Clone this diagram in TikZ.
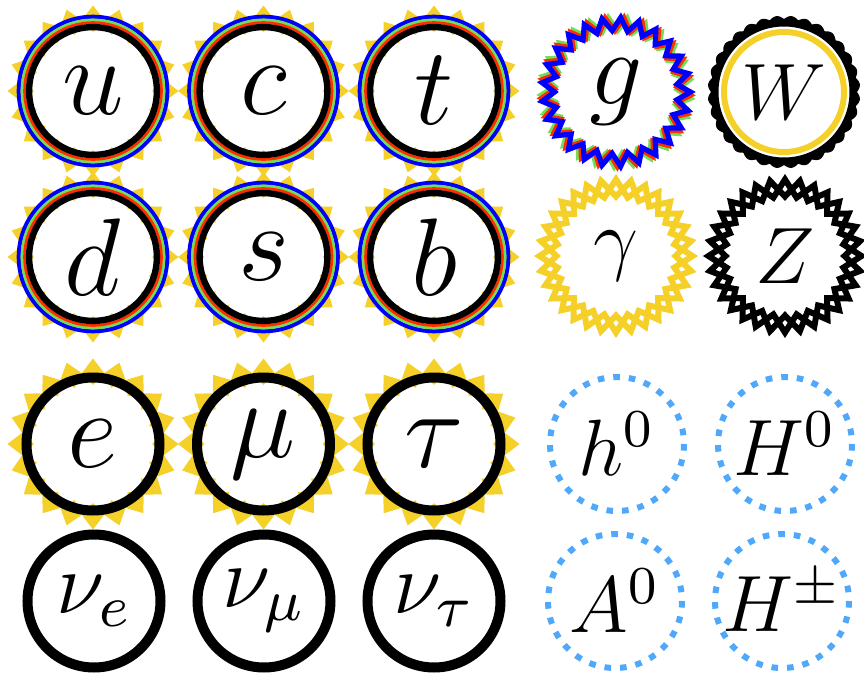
\documentclass[tikz,border=0pt]{standalone}
\usetikzlibrary{calc}
\definecolor{chg}{RGB}{245,208,40}
\definecolor{qred}{RGB}{255,45,0}
\definecolor{qgreen}{RGB}{112,222,90}
\definecolor{qblue}{RGB}{0,0,255}
\definecolor{hblue}{RGB}{80,168,250}
\newcommand\Lbig[1]{\scalebox{4.6}{$#1$}}
\newcommand\Lnu[1]{\scalebox{3.67}{$#1$}}
\newcommand\Lbos[1]{\scalebox{3.33}{$#1$}}
\newcommand\Lglu[1]{\scalebox{4.4}{$#1$}}
\tikzset{
  lbl/.style={inner sep=0pt, font=\fontsize{12}{14}\selectfont},
  zigline/.style={line width=2.6pt, line join=miter, miter limit=10},
  dblzig/.style={line width=3pt, line join=miter, miter limit=10},
}
\newcommand\chargeteeth[1]{%
  \begin{scope}[shift={(#1.center)}]
    \foreach \a in {0,18,...,342}
      \fill[chg] (\a:59) -- ({\a-8.8}:72) -- (\a:85.5) -- ({\a+8.8}:72) -- cycle;
  \end{scope}}
\newcommand\quarkrings[1]{%
  \begin{scope}[shift={(#1.center)}]
    \draw[qblue, line width=2pt] (0,0) circle (74.3);
    \draw[qgreen, line width=1.4pt] (0,0) circle (71);
    \draw[qred, line width=1.4pt] (0,0) circle (68.4);
    \draw[black, line width=3.2pt] (0,0) circle (63.9);
  \end{scope}}
\newcommand\leptonring[1]{%
  \draw[black, line width=5pt] (#1.center) circle (66.5);}
% node, style, radius, amplitude, N, 2N-1, 2N, rotation
\newcommand\zigring[8]{%
  \draw[#2, shift={(#1.center)}] plot[domain=0:#6, samples=#7, variable=\k]
    ({\k*180/#5+#8}:{#3+#4*cos(\k*180)}) -- cycle;}
\begin{document}
\begin{tikzpicture}[x=0.5pt, y=-0.5pt]
\useasboundingbox (0,0) rectangle (864,675);
% quarks
\node[lbl] (u) at (93,91) {\Lbig{u}};
\node[lbl] (c) at (263.5,91) {\Lbig{c}};
\node[lbl] (t) at (434,91) {\Lbig{t}};
\node[lbl] (d) at (93,257) {\Lbig{d}};
\node[lbl] (s) at (263.5,257) {\Lbig{s}};
\node[lbl] (b) at (434,257) {\Lbig{b}};
% leptons
\node[lbl] (e) at (93,444) {\Lbig{e}};
\node[lbl] (mu) at (263.5,444) {\Lbig{\mu}};
\node[lbl] (tau) at (434,444) {\Lbig{\tau}};
\node[lbl] (nue) at (94,601) {\Lnu{\nu_e}};
\node[lbl] (num) at (264,601) {\Lnu{\nu_\mu}};
\node[lbl] (nut) at (434,601) {\Lnu{\nu_\tau}};
% bosons
\node[lbl] (g) at (616,92) {\Lglu{g}};
\node[lbl] (W) at (784,92) {\Lbos{W}};
\node[lbl] (gam) at (616,256) {\Lbos{\gamma}};
\node[lbl] (Z) at (785,256) {\Lbos{Z}};
\node[lbl] (h0) at (617,444) {\Lbos{h^0}};
\node[lbl] (H0) at (785,444) {\Lbos{H^0}};
\node[lbl] (A0) at (615,601) {\Lbos{A^0}};
\node[lbl] (Hpm) at (782,601) {\Lbos{H^\pm}};
% quark decorations
\foreach \q in {u,c,t,d,s,b}{\chargeteeth{\q}\quarkrings{\q}}
% charged leptons
\foreach \q in {e,mu,tau}{\chargeteeth{\q}\leptonring{\q}}
% neutrinos
\foreach \q in {nue,num,nut}{\leptonring{\q}}
% gluon
\zigring{g}{qgreen,zigline}{68}{6.5}{25}{49}{50}{5}
\zigring{g}{qred,zigline}{68}{6.5}{25}{49}{50}{2.5}
\zigring{g}{qblue,zigline}{68}{6.5}{25}{49}{50}{0}
% W
\begin{scope}[shift={(W.center)}]
  \fill[black, even odd rule] plot[domain=0:359.5, samples=720] ({\x}:{73+3.2*abs(sin(16*\x))}) -- cycle
    (0,0) circle (65.5);
  \draw[chg, line width=3pt] (0,0) circle (60);
\end{scope}
% photon
\zigring{gam}{chg,dblzig}{68}{8.5}{16}{31}{32}{0}
\zigring{gam}{chg,dblzig}{68}{-8.5}{16}{31}{32}{0}
% Z
\zigring{Z}{black,dblzig}{68}{8.5}{16}{31}{32}{0}
\zigring{Z}{black,dblzig}{68}{-8.5}{16}{31}{32}{0}
% Higgs
\foreach \q in {h0,H0,A0,Hpm}
  \draw[hblue, line width=3pt, dash pattern=on 3.3pt off 4.5pt] (\q.center) circle (67);
\end{tikzpicture}
\end{document}
